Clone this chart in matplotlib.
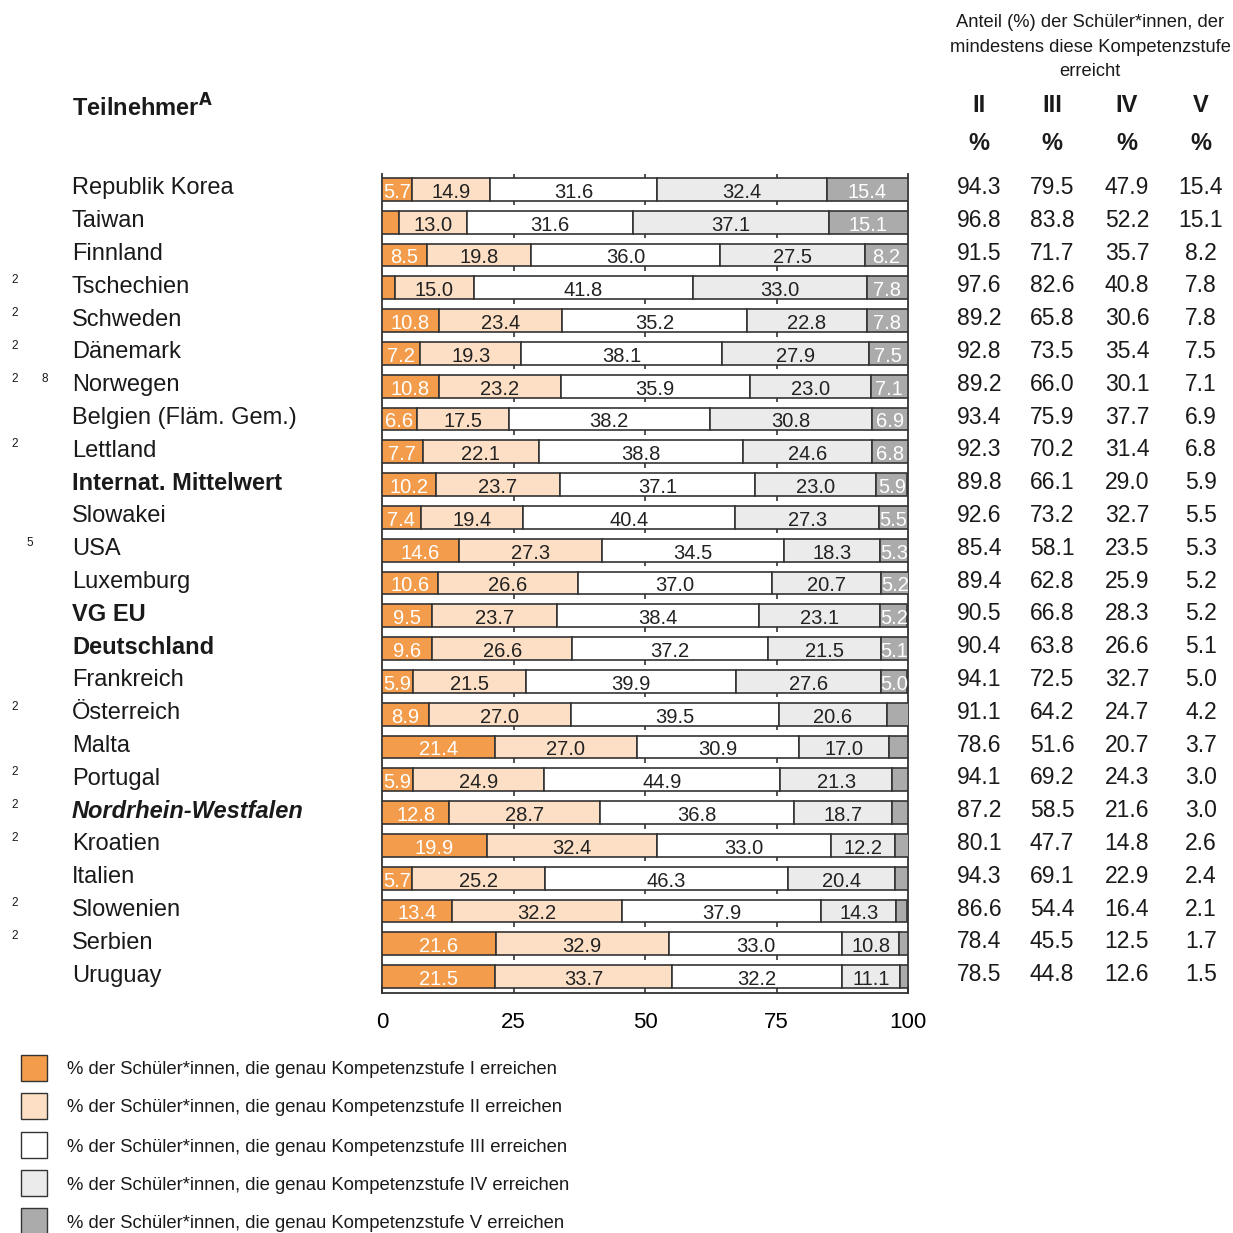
import matplotlib
matplotlib.use("Agg")
import matplotlib.pyplot as plt
from matplotlib import transforms
from matplotlib.patches import Rectangle

plt.rcParams['font.family'] = ['Liberation Sans', 'DejaVu Sans']

names = ["Republik Korea", "Taiwan", "Finnland", "Tschechien", "Schweden", "Dänemark",
         "Norwegen", "Belgien (Fläm. Gem.)", "Lettland", "Internat. Mittelwert", "Slowakei",
         "USA", "Luxemburg", "VG EU", "Deutschland", "Frankreich", "Österreich", "Malta",
         "Portugal", "Nordrhein-Westfalen", "Kroatien", "Italien", "Slowenien", "Serbien",
         "Uruguay"]
name_style = ["n", "n", "n", "n", "n", "n", "n", "n", "n", "b", "n", "n", "n", "b", "b",
              "n", "n", "n", "n", "bi", "n", "n", "n", "n", "n"]
footnotes = [[], [], [], [2], [2], [2], [2, 8], [], [2], [], [], [5], [], [], [], [],
             [2], [], [2], [2], [2], [], [2], [2], []]

level1 = [5.7, 3.2, 8.5, 2.4, 10.8, 7.2, 10.8, 6.6, 7.7, 10.2, 7.4, 14.6, 10.6, 9.5, 9.6,
          5.9, 8.9, 21.4, 5.9, 12.8, 19.9, 5.7, 13.4, 21.6, 21.5]
level2 = [14.9, 13.0, 19.8, 15.0, 23.4, 19.3, 23.2, 17.5, 22.1, 23.7, 19.4, 27.3, 26.6,
          23.7, 26.6, 21.5, 27.0, 27.0, 24.9, 28.7, 32.4, 25.2, 32.2, 32.9, 33.7]
level3 = [31.6, 31.6, 36.0, 41.8, 35.2, 38.1, 35.9, 38.2, 38.8, 37.1, 40.4, 34.5, 37.0,
          38.4, 37.2, 39.9, 39.5, 30.9, 44.9, 36.8, 33.0, 46.3, 37.9, 33.0, 32.2]
level4 = [32.4, 37.1, 27.5, 33.0, 22.8, 27.9, 23.0, 30.8, 24.6, 23.0, 27.3, 18.3, 20.7,
          23.1, 21.5, 27.6, 20.6, 17.0, 21.3, 18.7, 12.2, 20.4, 14.3, 10.8, 11.1]
level5 = [15.4, 15.1, 8.2, 7.8, 7.8, 7.5, 7.1, 6.9, 6.8, 5.9, 5.5, 5.3, 5.2, 5.2, 5.1,
          5.0, 4.2, 3.7, 3.0, 3.0, 2.6, 2.4, 2.1, 1.7, 1.5]

min_II = [94.3, 96.8, 91.5, 97.6, 89.2, 92.8, 89.2, 93.4, 92.3, 89.8, 92.6, 85.4, 89.4,
          90.5, 90.4, 94.1, 91.1, 78.6, 94.1, 87.2, 80.1, 94.3, 86.6, 78.4, 78.5]
min_III = [79.5, 83.8, 71.7, 82.6, 65.8, 73.5, 66.0, 75.9, 70.2, 66.1, 73.2, 58.1, 62.8,
           66.8, 63.8, 72.5, 64.2, 51.6, 69.2, 58.5, 47.7, 69.1, 54.4, 45.5, 44.8]
min_IV = [47.9, 52.2, 35.7, 40.8, 30.6, 35.4, 30.1, 37.7, 31.4, 29.0, 32.7, 23.5, 25.9,
          28.3, 26.6, 32.7, 24.7, 20.7, 24.3, 21.6, 14.8, 22.9, 16.4, 12.5, 12.6]
min_V = [15.4, 15.1, 8.2, 7.8, 7.8, 7.5, 7.1, 6.9, 6.8, 5.9, 5.5, 5.3, 5.2, 5.2, 5.1,
         5.0, 4.2, 3.7, 3.0, 3.0, 2.6, 2.4, 2.1, 1.7, 1.5]

col_heads = ["II", "III", "IV", "V"]
x_ticks = [0, 25, 50, 75, 100]
legend_labels = [
    "% der Schüler*innen, die genau Kompetenzstufe I erreichen",
    "% der Schüler*innen, die genau Kompetenzstufe II erreichen",
    "% der Schüler*innen, die genau Kompetenzstufe III erreichen",
    "% der Schüler*innen, die genau Kompetenzstufe IV erreichen",
    "% der Schüler*innen, die genau Kompetenzstufe V erreichen",
]
header_text = "Anteil (%) der Schüler*innen, der\nmindestens diese Kompetenzstufe\nerreicht"

colors = ["#F39C4B", "#FDDFC5", "#FFFFFF", "#EBEBEB", "#ABABAB"]
text_cols = ["white", "#222222", "#222222", "#222222", "white"]
edge = "#333333"
W = 1233.0

fig = plt.figure(figsize=(12.33, 12.33), dpi=100)
ax_top, ax_bot = 174, 993
ax = fig.add_axes([382 / W, 1 - ax_bot / W, (908 - 382) / W, (ax_bot - ax_top) / W])

n = len(names)
levels = [level1, level2, level3, level4, level5]
bh = 0.70
for i in range(n):
    left = 0.0
    for k, lv in enumerate(levels):
        v = lv[i]
        ax.barh(i, v, left=left, height=bh, color=colors[k], edgecolor=edge,
                linewidth=1.2, zorder=3)
        if v >= 5.0:
            ax.text(left + v / 2, i + 0.09, f"{v:.1f}", ha="center", va="center",
                    fontsize=14.5, color=text_cols[k], zorder=4)
        left += v

ax.set_xlim(0, 100)
ax.set_ylim(n - 0.5, -0.47)
ax.set_yticks([])
ax.spines['top'].set_visible(False)
for s in ['left', 'right', 'bottom']:
    ax.spines[s].set_linewidth(1.3)
    ax.spines[s].set_color(edge)
ax.set_xticks(x_ticks)
ax.set_xticklabels([str(t) for t in x_ticks], fontsize=16)
ax.tick_params(axis='x', direction='in', length=6, width=1.2, color=edge, pad=14)
ax.set_xticks([0, 100], minor=True)
ax.tick_params(axis='x', which='minor', direction='out', length=7, width=1.3, color=edge)

# short tick marks in the gaps between rows
for xv in [25, 50, 75]:
    ax.vlines(xv, -0.47, -bh / 2, color=edge, linewidth=1.2, zorder=2)
    for i in range(n - 1):
        ax.vlines(xv, i + bh / 2, i + bh / 2 + 0.14, color=edge, linewidth=1.2, zorder=2)

# row texts
tr = transforms.blended_transform_factory(fig.transFigure, ax.transData)
fn_x = {2: 15, 5: 30, 8: 45}
for i, name in enumerate(names):
    st = name_style[i]
    ax.text(72 / W, i - 0.03, name, transform=tr, ha="left", va="center", fontsize=17,
            fontweight="bold" if "b" in st else "normal",
            fontstyle="italic" if "i" in st else "normal", color="#1a1a1a")
    for f in footnotes[i]:
        ax.text(fn_x[f] / W, i - 0.23, str(f), transform=tr, ha="center", va="center",
                fontsize=8.5, color="#1a1a1a")

col_x = [979, 1052, 1127, 1201]
for j, vals in enumerate([min_II, min_III, min_IV, min_V]):
    for i, v in enumerate(vals):
        ax.text(col_x[j] / W, i - 0.06, f"{v:.1f}", transform=tr, ha="center",
                va="center", fontsize=16.5, color="#1a1a1a")
    fig.text(col_x[j] / W, 1 - 106 / W, col_heads[j], ha="center", va="center",
             fontsize=17, fontweight="bold", color="#1a1a1a")
    fig.text(col_x[j] / W, 1 - 144 / W, "%", ha="center", va="center",
             fontsize=17, fontweight="bold", color="#1a1a1a")

fig.text(1090 / W, 1 - 47 / W, header_text, ha="center", va="center", fontsize=13.2,
         linespacing=1.6, color="#1a1a1a")
fig.text(72 / W, 1 - 108 / W, r"Teilnehmer$^{\mathbf{A}}$", ha="left", va="center",
         fontsize=17, fontweight="bold", color="#1a1a1a")

# legend
leg_y = [1068, 1106, 1145, 1183, 1221]
for k, lab in enumerate(legend_labels):
    y = leg_y[k]
    fig.patches.append(Rectangle((21 / W, 1 - (y + 13) / W), 26 / W, 26 / W,
                                 transform=fig.transFigure, facecolor=colors[k],
                                 edgecolor=edge, linewidth=1.0))
    fig.text(67 / W, 1 - (y + 2) / W, lab, ha="left", va="center", fontsize=13.3,
             color="#1a1a1a")

fig.savefig("out.png", dpi=100)
